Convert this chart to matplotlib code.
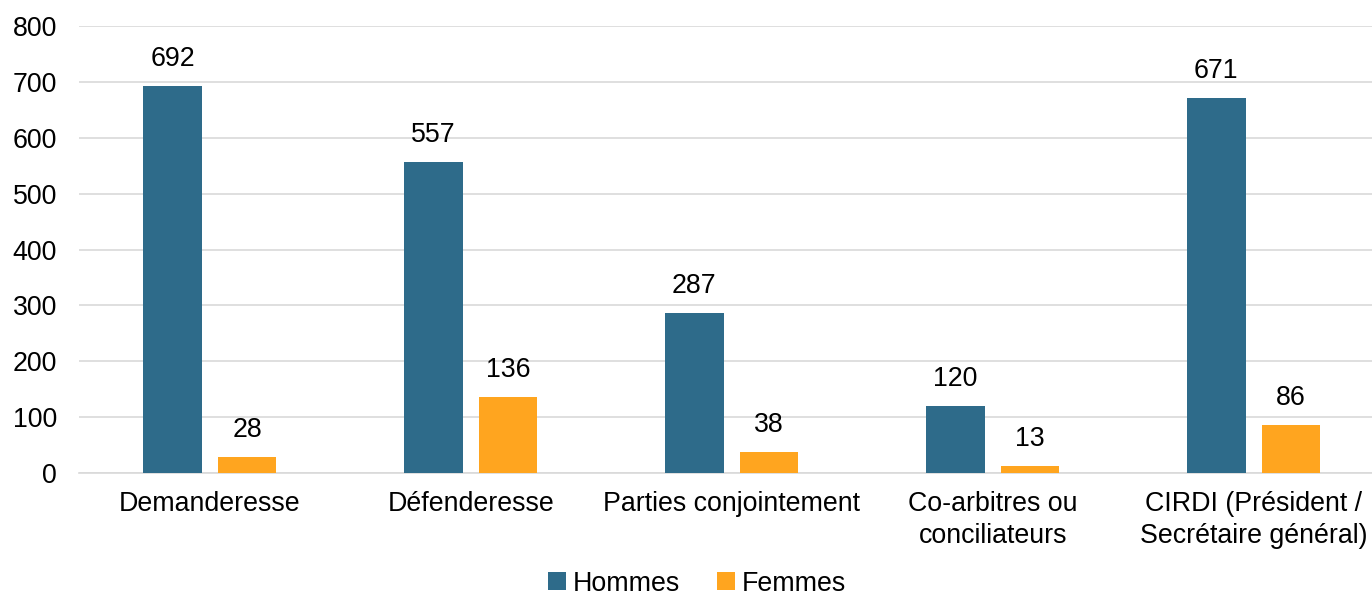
import matplotlib
matplotlib.use("Agg")
import matplotlib.pyplot as plt
import numpy as np

categories = ["Demanderesse", "Défenderesse", "Parties conjointement",
              "Co-arbitres ou\nconciliateurs", "CIRDI (Président /\nSecrétaire général)"]
hommes = [692, 557, 287, 120, 671]
femmes = [28, 136, 38, 13, 86]
series_names = ["Hommes", "Femmes"]
colors = ["#2E6B8A", "#FFA51F"]
yticks = [0, 100, 200, 300, 400, 500, 600, 700, 800]

plt.rcParams['font.family'] = ['Liberation Sans', 'DejaVu Sans']
fs = 19.3

fig = plt.figure(figsize=(13.72, 5.98), dpi=100)
ax = fig.add_axes([0.0578, 0.209, 0.951, 0.7475])

x = np.arange(len(categories))
w = 0.225
off = 0.143
b1 = ax.bar(x - off, hommes, w, color=colors[0], label=series_names[0], zorder=3)
b2 = ax.bar(x + off, femmes, w, color=colors[1], label=series_names[1], zorder=3)
for bars, vals in ((b1, hommes), (b2, femmes)):
    for r, v in zip(bars, vals):
        ax.annotate(str(v), (r.get_x() + r.get_width() / 2, v), xytext=(0, 10),
                    textcoords="offset points", ha="center", va="bottom", fontsize=fs)

ax.set_xlim(-0.5, 4.5)
ax.set_ylim(0, 800)
ax.set_yticks(yticks)
ax.set_xticks(x)
ax.set_xticklabels(categories, fontsize=fs, linespacing=1.3)
ax.tick_params(axis='y', labelsize=fs, length=0, pad=16)
ax.tick_params(axis='x', length=0, pad=13)
ax.grid(axis='y', color="#D9D9D9", linewidth=1.2, zorder=0)
for s in ["top", "right", "left"]:
    ax.spines[s].set_visible(False)
ax.spines["bottom"].set_color("#D9D9D9")
ax.spines["bottom"].set_linewidth(1.2)

fig.legend(loc="lower center", bbox_to_anchor=(0.508, -0.038), ncol=2, frameon=False,
           fontsize=fs, handlelength=0.65, handleheight=0.65, handletextpad=0.25,
           columnspacing=1.4)

fig.savefig("out.png", dpi=100)
